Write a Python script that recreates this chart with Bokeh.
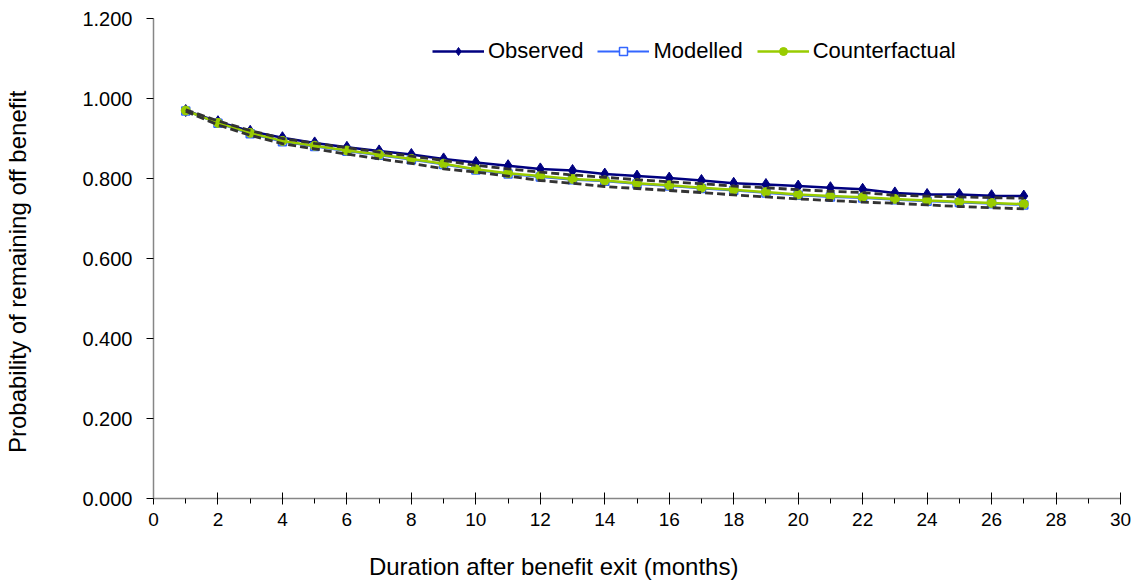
from bokeh.plotting import figure
from bokeh.models import Range1d, FixedTicker, NumeralTickFormatter
from bokeh.embed import file_html
from bokeh.resources import INLINE

months = list(range(1, 28))
observed = [0.970, 0.942, 0.918, 0.902, 0.889, 0.878, 0.869, 0.860, 0.849, 0.840,
            0.832, 0.824, 0.820, 0.811, 0.806, 0.801, 0.795, 0.788, 0.785, 0.781,
            0.777, 0.773, 0.764, 0.760, 0.760, 0.757, 0.756]
modelled = [0.969, 0.938, 0.912, 0.892, 0.880, 0.868, 0.858, 0.847, 0.835, 0.821,
            0.811, 0.804, 0.797, 0.793, 0.786, 0.781, 0.775, 0.770, 0.764, 0.758,
            0.754, 0.751, 0.747, 0.743, 0.740, 0.737, 0.734]
counterfactual = [0.970, 0.939, 0.914, 0.894, 0.882, 0.870, 0.860, 0.849, 0.837, 0.823,
                  0.813, 0.806, 0.799, 0.795, 0.788, 0.783, 0.777, 0.772, 0.766, 0.760,
                  0.756, 0.753, 0.749, 0.745, 0.742, 0.739, 0.736]
lower_bound = [0.968, 0.934, 0.908, 0.887, 0.874, 0.861, 0.849, 0.838, 0.824, 0.816,
               0.806, 0.795, 0.788, 0.780, 0.775, 0.770, 0.765, 0.759, 0.754, 0.749,
               0.745, 0.741, 0.738, 0.734, 0.730, 0.727, 0.724]
upper_bound = [0.972, 0.944, 0.920, 0.900, 0.888, 0.877, 0.866, 0.856, 0.845, 0.833,
               0.824, 0.816, 0.809, 0.803, 0.797, 0.792, 0.787, 0.781, 0.777, 0.772,
               0.768, 0.765, 0.758, 0.756, 0.754, 0.752, 0.751]

x_ticks = list(range(0, 31, 2))
x_minor = list(range(1, 30, 2))
y_ticks = [0.0, 0.2, 0.4, 0.6, 0.8, 1.0, 1.2]
x_title = "Duration after benefit exit (months)"
y_title = "Probability of remaining off benefit"

FONT = "Liberation Sans"
NBSP = "\u00a0"

p = figure(width=1138, height=582, output_backend="svg", toolbar_location=None,
           x_range=Range1d(0, 30), y_range=Range1d(0, 1.2),
           min_border_left=153, min_border_right=18, min_border_top=18, min_border_bottom=84)
p.outline_line_color = None
p.xgrid.visible = False
p.ygrid.visible = False

p.line(months, observed, line_color="#000080", line_width=2.5, legend_label="Observed")
p.scatter(months, observed, marker="diamond", size=12, fill_color="#000080",
          line_color="#000080", legend_label="Observed")

p.line(months, modelled, line_color="#3366FF", line_width=2, legend_label="Modelled")
p.scatter(months, modelled, marker="square", size=8, fill_color="white",
          line_color="#3366FF", line_width=1.5, legend_label="Modelled")

p.line(months, counterfactual, line_color="#99CC00", line_width=2.5, legend_label="Counterfactual")
p.scatter(months, counterfactual, marker="circle", size=9, fill_color="#99CC00",
          line_color="#99CC00", legend_label="Counterfactual")

p.line(months, lower_bound, line_color="#333333", line_width=2.8, line_dash="8 4")
p.line(months, upper_bound, line_color="#333333", line_width=2.8, line_dash="8 4")

p.xaxis.ticker = FixedTicker(ticks=x_ticks, minor_ticks=x_minor)
p.yaxis.ticker = FixedTicker(ticks=y_ticks)
p.yaxis.formatter = NumeralTickFormatter(format="0.000")

for ax in (p.xaxis[0], p.yaxis[0]):
    ax.axis_line_color = "#868686"
    ax.axis_line_width = 1.5
    ax.major_tick_line_color = "#000000"
    ax.minor_tick_line_color = "#000000"
    ax.major_label_text_font = FONT
    ax.major_label_text_font_size = "19px"
    ax.major_label_text_color = "#000000"
    ax.axis_label_text_font = FONT
    ax.axis_label_text_font_size = "24px"
    ax.axis_label_text_font_style = "normal"
    ax.axis_label_text_color = "#000000"

p.yaxis.major_label_text_font_size = "20px"

p.xaxis.major_tick_in = 6
p.xaxis.major_tick_out = 6
p.xaxis.minor_tick_in = 0
p.xaxis.minor_tick_out = 5
p.xaxis.major_label_standoff = 8
# the original title sits left of centre: trailing no-break spaces shift it
p.xaxis.axis_label = x_title + NBSP * 25
p.xaxis.axis_label_standoff = 24

p.yaxis.major_tick_in = 0
p.yaxis.major_tick_out = 7
p.yaxis.minor_tick_in = 0
p.yaxis.minor_tick_out = 0
p.yaxis.major_label_standoff = 14
p.yaxis.axis_label = y_title + NBSP * 4
p.yaxis.axis_label_standoff = 48

leg = p.legend[0]
leg.orientation = "horizontal"
leg.location = (279, 434)
leg.glyph_width = 52
leg.glyph_height = 20
leg.label_standoff = 4
leg.spacing = 14
leg.padding = 0
leg.margin = 0
leg.border_line_alpha = 0
leg.background_fill_alpha = 0
leg.label_text_font = FONT
leg.label_text_font_size = "22px"
leg.label_text_color = "#000000"

open("out.html", "w").write(file_html(p, INLINE))
